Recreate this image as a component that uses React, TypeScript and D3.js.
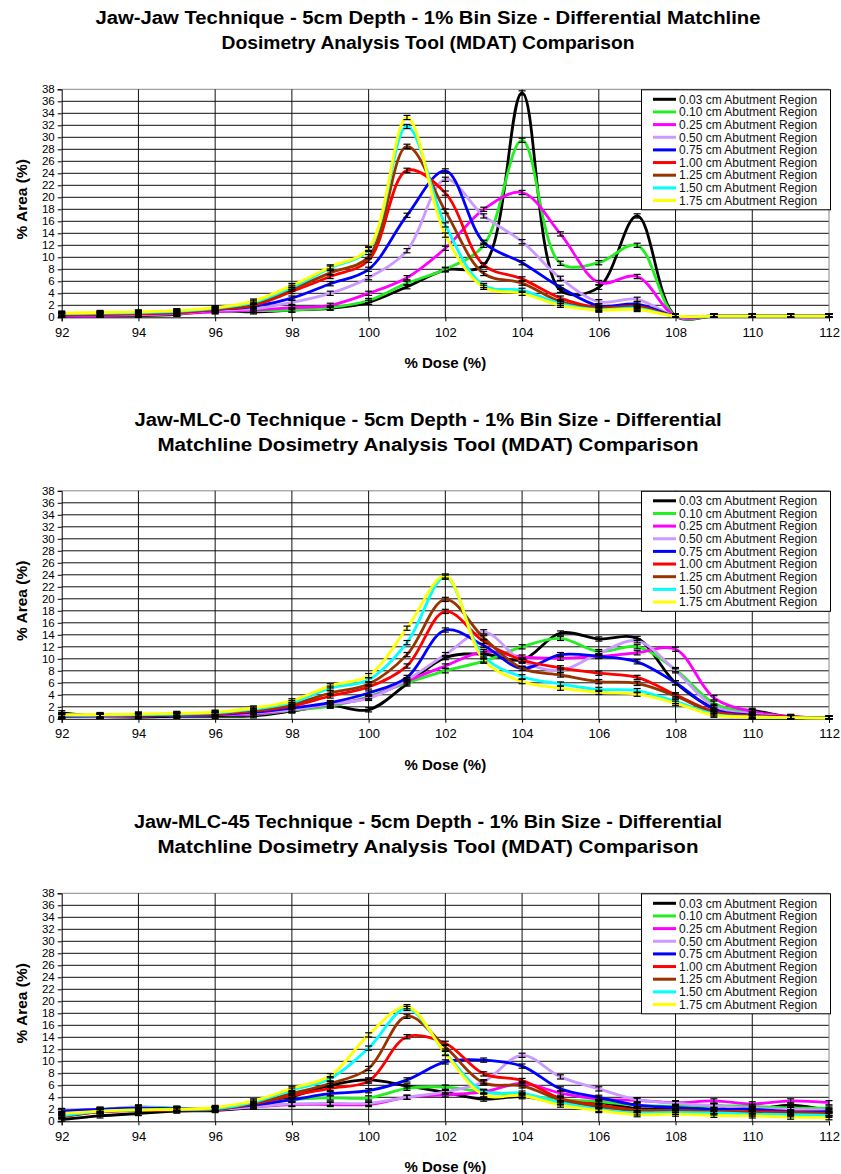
import { useRef, useEffect } from 'react'
import * as d3 from 'd3'

// % dose bins (x)
const DOSE = [92, 93, 94, 95, 96, 97, 98, 99, 100, 101, 102, 103, 104, 105, 106, 107, 108, 109, 110, 111, 112]

const SERIES = [
  '0.03 cm Abutment Region',
  '0.10 cm Abutment Region',
  '0.25 cm Abutment Region',
  '0.50 cm Abutment Region',
  '0.75 cm Abutment Region',
  '1.00 cm Abutment Region',
  '1.25 cm Abutment Region',
  '1.50 cm Abutment Region',
  '1.75 cm Abutment Region',
]
const COLORS = ['#000000', '#22ee22', '#ff00ff', '#cc99ff', '#0000ff', '#ff0000', '#993300', '#00ffff', '#ffff00']

// % area per series, Jaw-Jaw
const JAW_JAW = [
  [0.2, 0.3, 0.3, 0.5, 1.1, 0.9, 1.2, 1.5, 2.5, 5.1, 7.9, 8.7, 37.4, 4.5, 5.0, 16.9, 0.2, 0.2, 0.2, 0.2, 0.2],
  [0.3, 0.4, 0.4, 0.6, 1.0, 1.1, 1.2, 1.6, 2.8, 5.7, 8.0, 12.0, 29.5, 9.0, 9.1, 12.0, 0.2, 0.2, 0.2, 0.2, 0.2],
  [0.2, 0.3, 0.4, 0.6, 0.9, 1.2, 1.6, 2.0, 4.0, 6.6, 11.5, 18.0, 20.8, 13.9, 5.8, 6.8, 0.2, 0.2, 0.2, 0.2, 0.2],
  [0.4, 0.5, 0.5, 0.7, 1.2, 1.4, 2.5, 4.0, 6.6, 11.1, 23.0, 16.9, 12.6, 6.5, 2.6, 3.0, 0.2, 0.2, 0.2, 0.2, 0.2],
  [0.4, 0.5, 0.6, 0.8, 1.3, 1.8, 3.2, 5.6, 8.0, 17.0, 24.4, 12.5, 9.1, 5.0, 1.9, 2.2, 0.2, 0.2, 0.2, 0.2, 0.2],
  [0.4, 0.5, 0.6, 0.8, 1.3, 2.0, 4.3, 6.8, 9.5, 24.5, 20.7, 8.7, 6.4, 3.2, 1.6, 1.8, 0.2, 0.2, 0.2, 0.2, 0.2],
  [0.5, 0.6, 0.7, 0.9, 1.4, 2.2, 4.7, 7.4, 10.1, 28.5, 17.7, 7.3, 5.7, 2.6, 1.5, 1.7, 0.2, 0.2, 0.2, 0.2, 0.2],
  [0.6, 0.7, 0.8, 1.0, 1.5, 2.5, 5.0, 8.2, 11.3, 31.8, 15.4, 5.3, 4.5, 2.3, 1.3, 1.5, 0.2, 0.2, 0.2, 0.2, 0.2],
  [0.7, 0.8, 0.9, 1.1, 1.6, 2.7, 5.3, 8.4, 11.5, 33.3, 13.7, 5.0, 4.0, 2.0, 1.2, 1.3, 0.2, 0.2, 0.2, 0.2, 0.2],
]

// % area per series, Jaw-MLC-0
const JAW_MLC0 = [
  [1.0, 0.4, 0.3, 0.4, 0.4, 0.5, 1.3, 2.2, 1.5, 5.8, 10.2, 10.8, 9.8, 14.3, 13.3, 13.4, 6.0, 1.9, 1.4, 0.3, 0.1],
  [0.4, 0.5, 0.5, 0.6, 0.7, 0.7, 1.4, 2.1, 3.7, 6.0, 8.0, 9.6, 12.0, 13.4, 11.2, 12.0, 8.2, 2.6, 0.9, 0.3, 0.1],
  [0.4, 0.4, 0.5, 0.6, 0.7, 0.8, 1.5, 2.4, 3.5, 6.3, 8.8, 11.2, 10.3, 10.1, 10.4, 11.0, 11.6, 3.5, 1.2, 0.4, 0.1],
  [0.4, 0.4, 0.5, 0.6, 0.7, 1.0, 1.5, 2.5, 3.4, 6.5, 10.7, 14.5, 9.6, 8.1, 10.9, 13.0, 8.0, 2.1, 0.8, 0.3, 0.1],
  [0.4, 0.5, 0.5, 0.6, 0.7, 1.1, 1.8, 2.7, 4.3, 6.9, 14.8, 12.2, 8.4, 10.7, 10.4, 9.5, 6.0, 1.6, 0.6, 0.3, 0.1],
  [0.5, 0.5, 0.6, 0.7, 0.8, 1.3, 2.1, 3.8, 5.3, 8.8, 17.9, 12.9, 9.8, 8.5, 7.6, 6.9, 4.0, 1.2, 0.5, 0.3, 0.1],
  [0.5, 0.6, 0.6, 0.7, 0.9, 1.4, 2.4, 4.3, 5.8, 10.7, 19.9, 13.5, 8.4, 7.3, 6.2, 5.9, 3.8, 1.0, 0.4, 0.2, 0.1],
  [0.6, 0.6, 0.7, 0.8, 1.0, 1.6, 2.7, 5.1, 6.5, 12.7, 23.6, 10.4, 7.0, 5.8, 4.9, 4.7, 2.9, 0.8, 0.3, 0.2, 0.1],
  [0.7, 0.7, 0.8, 0.9, 1.1, 1.8, 3.0, 5.5, 7.2, 15.1, 23.8, 9.8, 6.2, 5.1, 4.4, 4.1, 2.6, 0.6, 0.3, 0.2, 0.1],
]

// % area per series, Jaw-MLC-45
const JAW_MLC45 = [
  [0.3, 0.9, 1.3, 1.7, 1.8, 2.4, 4.1, 6.0, 6.9, 5.9, 4.8, 3.7, 4.1, 3.1, 3.1, 2.1, 2.1, 2.6, 2.0, 2.7, 1.8],
  [1.0, 1.9, 2.4, 2.2, 2.1, 2.7, 3.6, 3.9, 3.9, 5.5, 5.7, 4.9, 4.4, 3.6, 3.3, 2.7, 2.5, 2.6, 2.5, 2.2, 2.2],
  [1.2, 1.8, 2.2, 2.0, 2.0, 2.4, 2.8, 2.8, 2.8, 4.0, 4.4, 4.9, 6.3, 4.7, 3.7, 3.5, 3.1, 3.4, 2.9, 3.4, 3.1],
  [1.8, 2.0, 2.3, 2.1, 2.0, 2.4, 2.9, 3.0, 3.0, 4.0, 4.9, 6.6, 11.0, 7.4, 5.4, 3.6, 3.0, 2.6, 2.2, 2.0, 1.9],
  [1.7, 2.0, 2.2, 2.1, 2.1, 2.7, 3.6, 4.6, 5.1, 6.9, 9.9, 10.2, 9.2, 5.4, 4.0, 2.7, 2.3, 2.0, 2.0, 1.6, 1.6],
  [0.8, 1.6, 1.8, 1.9, 2.0, 2.9, 4.3, 5.5, 6.7, 14.1, 13.0, 7.9, 6.8, 3.8, 2.7, 1.9, 1.8, 1.6, 1.6, 1.5, 1.3],
  [0.7, 1.6, 1.8, 1.9, 2.0, 3.0, 4.6, 6.3, 8.8, 17.5, 12.4, 6.4, 5.9, 3.6, 2.4, 1.8, 1.8, 1.6, 1.4, 1.3, 1.2],
  [0.9, 1.7, 1.9, 2.0, 2.1, 3.2, 5.2, 7.1, 12.2, 18.8, 11.4, 5.0, 4.7, 3.1, 2.0, 1.4, 1.5, 1.4, 1.2, 1.1, 1.0],
  [1.3, 1.7, 1.9, 2.0, 2.3, 3.4, 5.5, 7.6, 14.4, 19.1, 11.3, 4.4, 4.3, 2.7, 1.8, 1.1, 1.2, 1.0, 0.9, 0.7, 0.6],
]

const TITLES = [
  ['Jaw-Jaw Technique - 5cm Depth - 1% Bin Size - Differential Matchline', 'Dosimetry Analysis Tool (MDAT) Comparison'],
  ['Jaw-MLC-0 Technique - 5cm Depth - 1% Bin Size - Differential', 'Matchline Dosimetry Analysis Tool (MDAT) Comparison'],
  ['Jaw-MLC-45 Technique - 5cm Depth - 1% Bin Size - Differential', 'Matchline Dosimetry Analysis Tool (MDAT) Comparison'],
]
// rendered widths of the (condensed) title lines
const TITLE_WIDTHS = [[665, 413], [587, 541], [588, 541]]
const DATASETS = [JAW_JAW, JAW_MLC0, JAW_MLC45]
const X_TICKS = [92, 94, 96, 98, 100, 102, 104, 106, 108, 110, 112]
const Y_TICKS = [0, 2, 4, 6, 8, 10, 12, 14, 16, 18, 20, 22, 24, 26, 28, 30, 32, 34, 36, 38]
const ERR = 0.35 // half-height of the error bars, % area

const FONT = '"Liberation Sans", Arial, sans-serif'
const TOPS = [89.3, 490.8, 893.3]

export default function App() {
  const svgRef = useRef<SVGSVGElement>(null)

  useEffect(() => {
    if (!svgRef.current) return
    const svg = d3.select(svgRef.current)
    svg.selectAll('*').remove()

    const x = d3.scaleLinear().domain([92, 112]).range([61.7, 829])
    const y = d3.scaleLinear().domain([0, 38]).range([228, 0])
    const iH = 228

    DATASETS.forEach((data, ci) => {
      const g = svg.append('g').attr('transform', `translate(0,${TOPS[ci]})`)

      // title
      TITLES[ci].forEach((t, i) => {
        g.append('text')
          .attr('x', 428).attr('y', -65 + i * 25)
          .attr('text-anchor', 'middle')
          .attr('font-family', FONT).attr('font-weight', 'bold').attr('font-size', 18)
          .attr('textLength', TITLE_WIDTHS[ci][i])
          .attr('lengthAdjust', 'spacingAndGlyphs')
          .attr('fill', '#000')
          .text(t)
      })

      // grid
      g.append('g').selectAll('line').data(Y_TICKS.filter(d => d > 0)).join('line')
        .attr('x1', 61.7).attr('x2', 829)
        .attr('y1', d => y(d)).attr('y2', d => y(d))
        .attr('stroke', d => d === 38 ? '#888' : '#111').attr('stroke-width', 1)
      g.append('g').selectAll('line').data(X_TICKS.filter(d => d > 92)).join('line')
        .attr('x1', d => x(d)).attr('x2', d => x(d))
        .attr('y1', 0).attr('y2', iH)
        .attr('stroke', d => d === 112 ? '#888' : '#111').attr('stroke-width', 1)

      // axes
      const xAxis = g.append('g').attr('transform', `translate(0,${iH})`)
        .call(d3.axisBottom(x).tickValues(X_TICKS).tickSize(4).tickPadding(6))
      const yAxis = g.append('g').attr('transform', `translate(61.7,0)`)
        .call(d3.axisLeft(y).tickValues(Y_TICKS).tickSize(4).tickPadding(3))
      ;[xAxis, yAxis].forEach(a => {
        a.select('.domain').attr('stroke', '#000')
        a.selectAll('line').attr('stroke', '#000')
        a.selectAll('text').attr('font-family', FONT).attr('fill', '#000')
      })
      xAxis.selectAll('text').attr('font-size', 13)
      yAxis.selectAll('text').attr('font-size', 11.5)

      g.append('text')
        .attr('x', (61.7 + 829) / 2).attr('y', iH + 51)
        .attr('text-anchor', 'middle')
        .attr('font-family', FONT).attr('font-weight', 'bold').attr('font-size', 15)
        .text('% Dose (%)')
      g.append('text')
        .attr('transform', `translate(27,${iH / 2 - 4}) rotate(-90)`)
        .attr('text-anchor', 'middle')
        .attr('font-family', FONT).attr('font-weight', 'bold').attr('font-size', 15.5)
        .text('% Area (%)')

      // lines
      const line = d3.line<number>()
        .x((_, i) => x(DOSE[i]))
        .y(d => y(d))
        .curve(d3.curveCatmullRom.alpha(0.5))
      data.forEach((vals, si) => {
        g.append('path')
          .attr('d', line(vals))
          .attr('fill', 'none')
          .attr('stroke', COLORS[si])
          .attr('stroke-width', 2.8)
          .attr('stroke-linejoin', 'round')
      })

      // error bars
      const eb = g.append('g').attr('stroke', '#000').attr('stroke-width', 1.2)
      data.forEach(vals => {
        vals.forEach((v, i) => {
          const cx = x(DOSE[i])
          const lo = y(Math.max(0, v - ERR)), hi = y(v + ERR)
          eb.append('line').attr('x1', cx).attr('x2', cx).attr('y1', lo).attr('y2', hi)
          eb.append('line').attr('x1', cx - 3.5).attr('x2', cx + 3.5).attr('y1', lo).attr('y2', lo)
          eb.append('line').attr('x1', cx - 3.5).attr('x2', cx + 3.5).attr('y1', hi).attr('y2', hi)
        })
      })

      // legend
      const lg = g.append('g').attr('transform', 'translate(641,0)')
      lg.append('rect')
        .attr('x', 0.5).attr('y', 0.5).attr('width', 189).attr('height', 120)
        .attr('fill', '#fff').attr('stroke', '#000').attr('stroke-width', 1)
      SERIES.forEach((s, si) => {
        const ry = 10 + si * 12.65
        lg.append('line')
          .attr('x1', 12).attr('x2', 35).attr('y1', ry).attr('y2', ry)
          .attr('stroke', COLORS[si]).attr('stroke-width', 3)
        lg.append('text')
          .attr('x', 38).attr('y', ry + 4.3)
          .attr('font-family', FONT).attr('font-size', 12).attr('fill', '#111')
          .text(s)
      })
    })
  }, [])

  return (
    <svg
      ref={svgRef}
      width={841}
      height={1174}
      style={{ position: 'absolute', left: 0, top: 0, background: '#fff' }}
    />
  )
}
